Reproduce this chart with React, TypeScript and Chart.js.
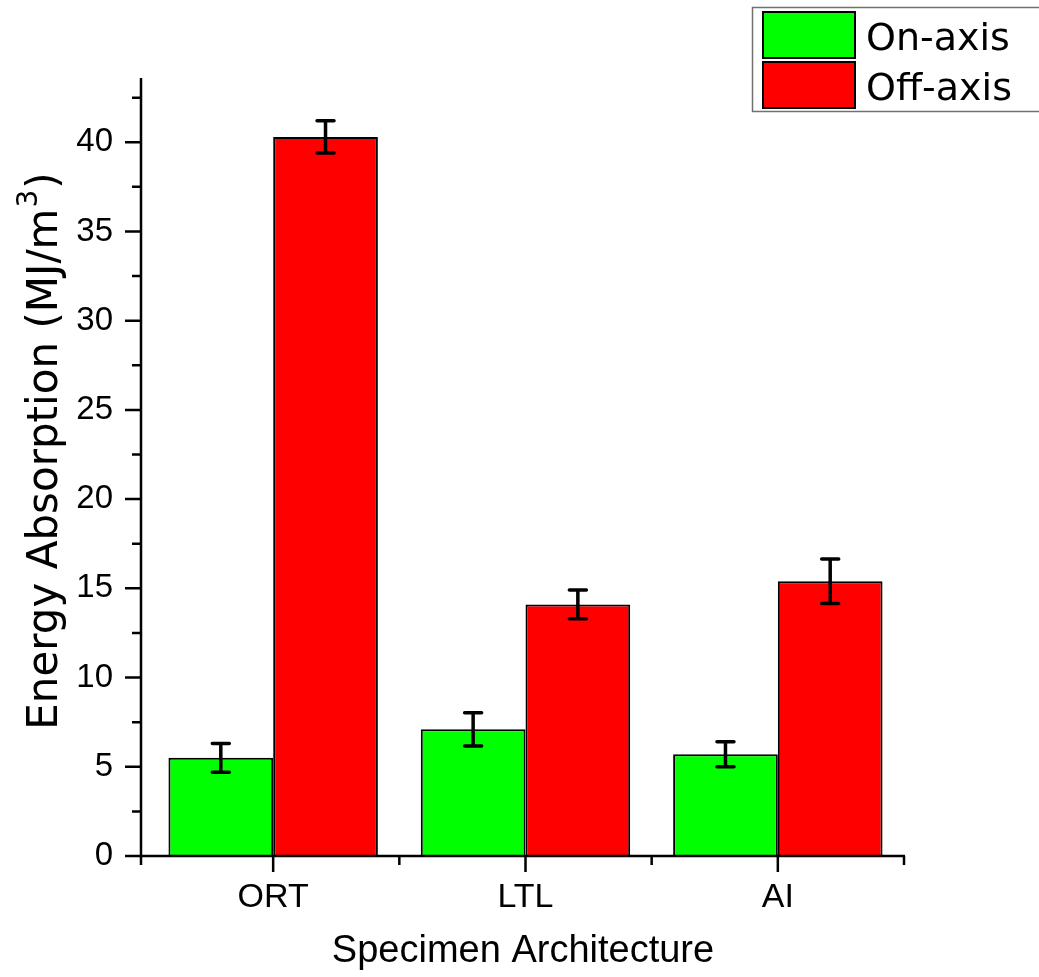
import React, { useEffect, useRef } from "react";
import { Chart, registerables } from "chart.js";

Chart.register(...registerables);

const categories = ["ORT", "LTL", "AI"];
const seriesLabels = ["On-axis", "Off-axis"];
const onAxisValues = [5.5, 7.1, 5.7];
const onAxisErrors = [0.8, 0.93, 0.7];
const offAxisValues = [40.3, 14.1, 15.4];
const offAxisErrors = [0.9, 0.8, 1.25];
const seriesColors = ["#00ff00", "#ff0000"];
const xTitle = "Specimen Architecture";
const yTitleMain = "Energy Absorption (MJ/m";
const yTitleSup = "3";
const yTitleEnd = ")";

const W = 1039;
const H = 977;
const ARIAL = "'Liberation Sans', Arial, sans-serif";
const VERDANA = "'DejaVu Sans', Verdana, sans-serif";

const errors = [onAxisErrors, offAxisErrors];

const decorPlugin = {
  id: "decor",
  afterDatasetsDraw(chart: any) {
    const ctx = chart.ctx;
    const xs = chart.scales.x;
    const ys = chart.scales.y;
    const area = chart.chartArea;
    const axisX = area.left - 6;
    const axisRight = area.right + 1;
    ctx.save();
    // error bars
    ctx.strokeStyle = "#000";
    ctx.lineWidth = 3.5;
    ctx.lineCap = "round";
    chart.data.datasets.forEach((ds: any, i: number) => {
      const meta = chart.getDatasetMeta(i);
      meta.data.forEach((bar: any, j: number) => {
        const v = ds.data[j];
        const e = errors[i][j];
        const yt = ys.getPixelForValue(v + e);
        const yb = ys.getPixelForValue(v - e);
        const x = bar.x;
        ctx.beginPath();
        ctx.moveTo(x, yt);
        ctx.lineTo(x, yb);
        ctx.moveTo(x - 8.5, yt);
        ctx.lineTo(x + 8.5, yt);
        ctx.moveTo(x - 8.5, yb);
        ctx.lineTo(x + 8.5, yb);
        ctx.stroke();
      });
    });
    // axes
    ctx.lineCap = "butt";
    ctx.lineWidth = 2.5;
    ctx.beginPath();
    ctx.moveTo(axisX, area.top);
    ctx.lineTo(axisX, area.bottom + 1.25);
    ctx.moveTo(axisX - 1.25, area.bottom);
    ctx.lineTo(axisRight, area.bottom);
    ctx.stroke();
    // y ticks (major + minor)
    ctx.beginPath();
    for (let k = 0; ys.min + k * 2.5 <= ys.max; k++) {
      const v = ys.min + k * 2.5;
      const py = ys.getPixelForValue(v);
      const len = k % 2 === 0 ? 16 : 9;
      ctx.moveTo(axisX, py);
      ctx.lineTo(axisX - len, py);
    }
    // x ticks
    const n = categories.length;
    const cw = (area.right - area.left) / n;
    for (let k = 1; k <= n; k++) {
      const px = area.left + k * cw;
      ctx.moveTo(px, area.bottom);
      ctx.lineTo(px, area.bottom + 9);
    }
    ctx.moveTo(axisX, area.bottom);
    ctx.lineTo(axisX, area.bottom + 9);
    for (let k = 0; k < n; k++) {
      const px = xs.getPixelForValue(k);
      ctx.moveTo(px, area.bottom);
      ctx.lineTo(px, area.bottom + 16);
    }
    ctx.stroke();

    // x title
    ctx.fillStyle = "#000";
    ctx.font = `38px ${ARIAL}`;
    ctx.textAlign = "center";
    ctx.textBaseline = "alphabetic";
    ctx.fillText(xTitle, (axisX + axisRight) / 2, 962);

    // y title with superscript
    ctx.save();
    ctx.translate(57, 452);
    ctx.rotate(-Math.PI / 2);
    ctx.textAlign = "left";
    const mainFont = `42px ${VERDANA}`;
    const supFont = `28px ${VERDANA}`;
    ctx.font = mainFont;
    const w1 = ctx.measureText(yTitleMain).width;
    const w3 = ctx.measureText(yTitleEnd).width;
    ctx.font = supFont;
    const w2 = ctx.measureText(yTitleSup).width;
    let sx = -(w1 + w2 + w3) / 2;
    ctx.font = mainFont;
    ctx.fillText(yTitleMain, sx, 0);
    sx += w1;
    ctx.font = supFont;
    ctx.fillText(yTitleSup, sx + 1, -20);
    sx += w2 + 2;
    ctx.font = mainFont;
    ctx.fillText(yTitleEnd, sx, 0);
    ctx.restore();

    // legend
    ctx.strokeStyle = "#707070";
    ctx.lineWidth = 1.5;
    ctx.strokeRect(752.5, 7.5, 300, 104);
    const rows = [12, 62];
    ctx.font = `38px ${VERDANA}`;
    ctx.textAlign = "left";
    ctx.textBaseline = "alphabetic";
    chart.data.datasets.forEach((ds: any, i: number) => {
      const top = rows[i];
      ctx.fillStyle = ds.backgroundColor;
      ctx.fillRect(763, top, 92, 46);
      ctx.strokeStyle = "#000";
      ctx.lineWidth = 2;
      ctx.strokeRect(763, top, 92, 46);
      ctx.fillStyle = "#000";
      ctx.fillText(ds.label, 866, top + 38);
    });
    ctx.restore();
  },
};

export default function App() {
  const ref = useRef<HTMLCanvasElement | null>(null);
  useEffect(() => {
    if (!ref.current) return;
    const chart = new Chart(ref.current, {
      type: "bar",
      data: {
        labels: categories,
        datasets: [
          {
            label: seriesLabels[0],
            data: onAxisValues,
            backgroundColor: seriesColors[0],
            borderColor: "#000",
            borderWidth: 2,
            barPercentage: 1,
            categoryPercentage: 0.83,
          },
          {
            label: seriesLabels[1],
            data: offAxisValues,
            backgroundColor: seriesColors[1],
            borderColor: "#000",
            borderWidth: 2,
            barPercentage: 1,
            categoryPercentage: 0.83,
          },
        ],
      },
      options: {
        responsive: false,
        animation: false,
        layout: { padding: { top: 78, right: 135, left: 0, bottom: 0 } },
        plugins: {
          legend: { display: false },
          tooltip: { enabled: false },
        },
        scales: {
          x: {
            grid: { display: false, drawTicks: false },
            border: { display: false },
            ticks: {
              color: "#000",
              font: { family: ARIAL, size: 34 },
              padding: 21,
            },
            afterFit: (s: any) => {
              s.height = 121;
            },
          },
          y: {
            min: 0,
            max: 43.6,
            grid: { display: false, drawTicks: false },
            border: { display: false },
            ticks: {
              stepSize: 5,
              includeBounds: false,
              color: "#000",
              font: { family: ARIAL, size: 33 },
              padding: 34,
            },
            afterFit: (s: any) => {
              s.width = 147;
            },
          },
        },
      },
      plugins: [decorPlugin],
    });
    return () => chart.destroy();
  }, []);
  return (
    <div style={{ position: "absolute", left: 0, top: 0, width: W, height: H, background: "#fff" }}>
      <canvas ref={ref} width={W} height={H} style={{ display: "block" }} />
    </div>
  );
}
